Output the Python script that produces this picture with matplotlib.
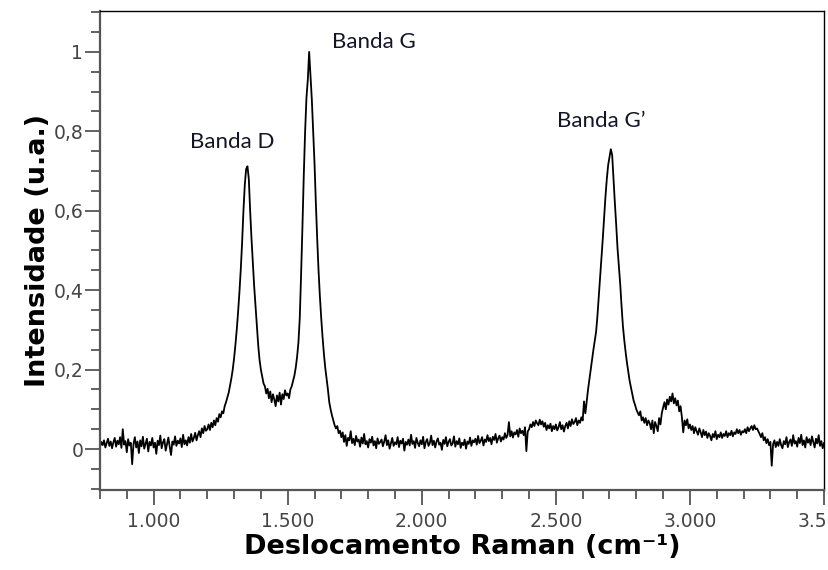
import matplotlib.pyplot as plt
import numpy as np
from matplotlib.ticker import MultipleLocator

# Raman shift sampled every 5 cm-1 from 800 to 3500
shift_start = 800
shift_stop = 3500
shift_step = 5

# intensities, segment by segment
base_800_1195 = [
    0.005, 0.018, 0.010, 0.022, 0.004, 0.015, 0.026, 0.008, 0.019, 0.002,
    0.017, 0.028, 0.006, 0.021, 0.012, 0.030, 0.003, 0.050, 0.011, 0.020,
    -0.008, 0.025, 0.009, 0.016, -0.038, 0.012, 0.030, 0.004, 0.019, -0.010,
    0.022, 0.007, 0.031, 0.001, 0.014, 0.026, -0.006, 0.018, 0.009, 0.028,
    0.004, 0.016, -0.012, 0.021, 0.010, 0.034, 0.002, 0.017, 0.025, -0.004,
    0.013, 0.029, 0.006, -0.015, 0.019, 0.011, 0.032, 0.008, 0.021, 0.014,
    0.027, 0.005, 0.036, 0.012, 0.022, 0.009, 0.030, 0.016, 0.038, 0.019,
    0.028, 0.041, 0.022, 0.035, 0.045, 0.030, 0.052, 0.040, 0.058, 0.046,
]
band_d_1200_1495 = [
    0.050, 0.062, 0.048, 0.066, 0.055, 0.072, 0.060, 0.078, 0.069, 0.088,
    0.080, 0.095, 0.090, 0.108, 0.118, 0.130, 0.142, 0.160, 0.178, 0.200,
    0.228, 0.262, 0.300, 0.345, 0.395, 0.452, 0.520, 0.600, 0.665, 0.705,
    0.712, 0.680, 0.600, 0.530, 0.470, 0.410, 0.360, 0.312, 0.262, 0.225,
    0.200, 0.182, 0.165, 0.158, 0.140, 0.152, 0.128, 0.145, 0.118, 0.138,
    0.125, 0.108, 0.135, 0.120, 0.142, 0.112, 0.138, 0.126, 0.148, 0.135,
]
band_g_1500_1695 = [
    0.140, 0.128, 0.150, 0.158, 0.172, 0.185, 0.205, 0.232, 0.268, 0.330,
    0.440, 0.560, 0.690, 0.800, 0.885, 0.930, 1.000, 0.940, 0.880, 0.800,
    0.720, 0.620, 0.530, 0.450, 0.385, 0.330, 0.282, 0.240, 0.205, 0.178,
    0.150, 0.118, 0.100, 0.085, 0.072, 0.060, 0.052, 0.058, 0.040, 0.046,
]
base_1700_2395 = [
    0.030, 0.042, 0.018, 0.035, 0.008, 0.028, 0.022, 0.045, 0.015, 0.026,
    0.010, 0.033, 0.019, 0.024, 0.006, 0.029, 0.014, 0.038, 0.012, 0.020,
    0.004, 0.025, 0.016, 0.031, 0.009, 0.020, 0.002, 0.027, 0.013, 0.018,
    0.024, 0.007, 0.019, 0.035, 0.010, 0.022, 0.001, 0.015, 0.028, 0.008,
    0.017, 0.012, 0.030, 0.005, 0.021, 0.014, 0.026, -0.004, 0.018, 0.011,
    0.024, 0.009, 0.036, 0.013, 0.020, 0.003, 0.028, 0.016, 0.007, 0.022,
    0.012, 0.031, 0.002, 0.018, 0.025, 0.008, 0.015, 0.034, 0.010, 0.021,
    0.004, 0.019, 0.027, 0.011, 0.016, -0.002, 0.023, 0.013, 0.030, 0.007,
    0.018, 0.025, 0.009, 0.014, 0.032, 0.006, 0.020, 0.012, 0.027, 0.003,
    0.016, 0.010, 0.024, 0.001, 0.019, 0.013, 0.029, 0.008, 0.022, 0.017,
    0.026, 0.011, 0.033, 0.015, 0.021, 0.030, 0.009, 0.024, 0.018, 0.035,
    0.020, 0.028, 0.012, 0.031, 0.023, 0.038, 0.016, 0.027, 0.034, 0.019,
    0.030, 0.024, 0.040, 0.028, 0.036, 0.068, 0.032, 0.045, 0.029, 0.042,
    0.037, 0.048, 0.031, 0.052, 0.040, 0.046, 0.035, 0.055, -0.005, 0.044,
]
band_g2_2400_2845 = [
    0.050, 0.062, 0.055, 0.068, 0.058, 0.072, 0.065, 0.060, 0.074, 0.062,
    0.070, 0.056, 0.066, 0.048, 0.060, 0.052, 0.064, 0.045, 0.058, 0.050,
    0.062, 0.047, 0.055, 0.068, 0.050, 0.060, 0.044, 0.058, 0.066, 0.052,
    0.070, 0.058, 0.075, 0.063, 0.068, 0.078, 0.060, 0.072, 0.066, 0.080,
    0.072, 0.120, 0.090, 0.120, 0.150, 0.175, 0.202, 0.225, 0.250, 0.272,
    0.295, 0.335, 0.384, 0.430, 0.480, 0.530, 0.585, 0.636, 0.680, 0.715,
    0.735, 0.755, 0.740, 0.680, 0.620, 0.565, 0.505, 0.460, 0.415, 0.360,
    0.310, 0.275, 0.245, 0.218, 0.195, 0.172, 0.155, 0.138, 0.122, 0.112,
    0.100, 0.092, 0.085, 0.095, 0.072, 0.080, 0.066, 0.078, 0.060, 0.072,
]
tail_2850_3500 = [
    0.065, 0.050, 0.072, 0.040, 0.068, 0.058, 0.045, 0.078, 0.062, 0.090,
    0.105, 0.118, 0.100, 0.125, 0.112, 0.132, 0.120, 0.140, 0.115, 0.128,
    0.110, 0.122, 0.095, 0.108, 0.080, 0.042, 0.072, 0.060, 0.075, 0.052,
    0.062, 0.048, 0.058, 0.040, 0.055, 0.045, 0.036, 0.052, 0.042, 0.030,
    0.048, 0.035, 0.044, 0.028, 0.040, 0.033, 0.022, 0.038, 0.030, 0.045,
    0.025, 0.036, 0.030, 0.042, 0.028, 0.038, 0.033, 0.045, 0.030, 0.040,
    0.035, 0.046, 0.032, 0.042, 0.038, 0.050, 0.040, 0.048, 0.036, 0.045,
    0.042, 0.050, 0.040, 0.055, 0.045, 0.052, 0.058, 0.048, 0.060, 0.050,
    0.052, 0.045, 0.038, 0.030, 0.040, 0.022, 0.030, 0.015, 0.025, 0.010,
    0.018, -0.042, 0.012, 0.022, 0.005, 0.018, 0.008, 0.025, 0.010, 0.002,
    0.020, 0.012, 0.030, 0.005, 0.018, 0.024, 0.008, 0.035, 0.014, 0.020,
    0.006, 0.028, 0.015, 0.036, 0.010, 0.022, 0.004, 0.030, 0.016, 0.025,
    0.010, 0.032, 0.018, 0.004, 0.026, 0.014, 0.035, 0.008, 0.020, 0.002,
    0.015,
]

band_names = ["Banda D", "Banda G", "Banda G\u2019"]
band_label_x = [1294, 1823, 2668]
band_label_y = [0.774, 1.024, 0.827]

xtick_vals = [1000, 1500, 2000, 2500, 3000, 3500]
xtick_text = ["1.000", "1.500", "2.000", "2.500", "3.000", "3.500"]
ytick_vals = [0, 0.2, 0.4, 0.6, 0.8, 1.0]
ytick_text = ["0", "0,2", "0,4", "0,6", "0,8", "1"]

intensity = np.array(base_800_1195 + band_d_1200_1495 + band_g_1500_1695
                     + base_1700_2395 + band_g2_2400_2845 + tail_2850_3500)
shift = np.arange(shift_start, shift_stop + 1, shift_step)

fig = plt.figure(figsize=(8.29, 5.70), dpi=100)
ax = fig.add_axes([0.1206, 0.1404, 0.8734, 0.8403])
ax.plot(shift, intensity, color="black", lw=1.3)

ax.set_xlim(800, 3500)
ax.set_ylim(-0.103, 1.103)

ax.set_xticks(xtick_vals)
ax.set_xticklabels(xtick_text)
ax.set_yticks(ytick_vals)
ax.set_yticklabels(ytick_text)
ax.xaxis.set_minor_locator(MultipleLocator(100))
ax.yaxis.set_minor_locator(MultipleLocator(0.05))
ax.tick_params(which="major", length=11, width=1.3, color="#555555",
               labelsize=13.5, labelcolor="#444444")
ax.tick_params(which="minor", length=6.5, width=1.3, color="#555555")
ax.tick_params(axis="x", pad=5)
ax.tick_params(axis="y", pad=1)

for side in ["left", "bottom"]:
    ax.spines[side].set_color("#555555")
    ax.spines[side].set_linewidth(1.6)
for side in ["top", "right"]:
    ax.spines[side].set_color("black")
    ax.spines[side].set_linewidth(1.0)

ax.set_xlabel("Deslocamento Raman (cm\u207b\u00b9)", fontsize=19.5,
              fontweight="bold", labelpad=2)
ax.set_ylabel("Intensidade (u.a.)", fontsize=19.5, fontweight="bold",
              labelpad=2)

for name, lx, ly in zip(band_names, band_label_x, band_label_y):
    ax.text(lx, ly, name, fontsize=16, family=["Lato", "DejaVu Sans"],
            color="#141428", ha="center", va="center")

fig.savefig("out.png", dpi=100)
